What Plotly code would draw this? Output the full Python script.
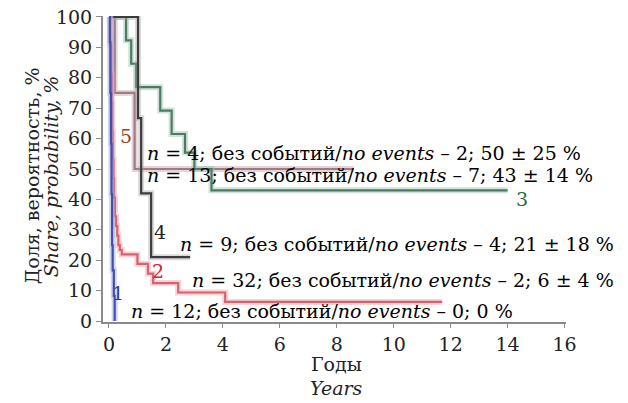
import plotly.graph_objects as go

# Kaplan-Meier style step curves (years, %)
c1_x = [0, 0.03, 0.05, 0.07, 0.09, 0.11, 0.13, 0.15, 0.17, 0.2]
c1_y = [100, 91.7, 75, 58.3, 41.7, 25, 16.7, 16.7, 8.3, 0]

c2_x = [0, 0.05, 0.08, 0.1, 0.12, 0.14, 0.16, 0.18, 0.21, 0.25, 0.29, 0.33, 0.38, 0.45, 1.0, 1.37, 1.55, 2.43, 4.08, 11.7]
c2_y = [100, 90.6, 81.3, 71.9, 62.5, 53.1, 46.9, 40.6, 34.4, 31.3, 28.1, 25.0, 23.4, 21.9, 18.8, 15.6, 12.5, 9.4, 6.3, 6.3]

c3_x = [0, 0.6, 0.78, 0.95, 1.8, 2.2, 2.67, 3.0, 3.6, 14.0]
c3_y = [100, 92.3, 84.6, 76.9, 69.2, 61.5, 55.4, 50.0, 43.0, 43.0]

c4_x = [0, 1.02, 1.13, 1.48, 2.85]
c4_y = [100, 66.7, 42.0, 21.0, 21.0]

c5_x = [0, 0.2, 0.9, 8.6]
c5_y = [100, 75, 50, 50]

x_ticks = [0, 2, 4, 6, 8, 10, 12, 14, 16]
y_ticks = [0, 10, 20, 30, 40, 50, 60, 70, 80, 90, 100]

curves = [
    (c5_x, c5_y, "#9a7c84", "rgba(200,160,170,0.45)"),
    (c3_x, c3_y, "#4d7a63", "rgba(150,190,170,0.45)"),
    (c4_x, c4_y, "#3c3c3c", "rgba(160,160,160,0.4)"),
    (c2_x, c2_y, "#d8636c", "rgba(240,170,175,0.5)"),
    (c1_x, c1_y, "#4450a8", "rgba(160,170,230,0.5)"),
]

fig = go.Figure()
for xs, ys, col, halo in curves:
    fig.add_trace(go.Scatter(x=xs, y=ys, mode="lines", line=dict(color=halo, width=6, shape="hv"),
                             hoverinfo="skip", showlegend=False))
    fig.add_trace(go.Scatter(x=xs, y=ys, mode="lines", line=dict(color=col, width=2.2, shape="hv"),
                             showlegend=False))

serif = "DejaVu Serif"
fs = 19

labels = [
    (1.27, 55.3, "<i>n</i> = 4; без событий/<i>no events</i> – 2; 50 ± 25 %", "black", "left"),
    (1.27, 48.0, "<i>n</i> = 13; без событий/<i>no events</i> – 7; 43 ± 14 %", "black", "left"),
    (2.43, 25.3, "<i>n</i> = 9; без событий/<i>no events</i> – 4; 21 ± 18 %", "black", "left"),
    (2.85, 13.5, "<i>n</i> = 32; без событий/<i>no events</i> – 2; 6 ± 4 %", "black", "left"),
    (0.70, 3.3, "<i>n</i> = 12; без событий/<i>no events</i> – 0; 0 %", "black", "left"),
    (14.5, 40.1, "3", "#1f6b45", "center"),
    (1.8, 29.3, "4", "#222222", "center"),
    (1.73, 16.4, "2", "#e0202a", "center"),
    (0.32, 9.2, "1", "#2a3aa0", "center"),
    (0.6, 60.9, "5", "#a0401a", "center"),
]
for x, y, t, c, anc in labels:
    fig.add_annotation(x=x, y=y, xref="x", yref="y", text=t, showarrow=False,
                       xanchor=anc, yanchor="middle", font=dict(family=serif, size=fs, color=c))

# axis titles (two lines each)
fig.add_annotation(x=-0.153, y=0.477, xref="paper", yref="paper", textangle=-90, showarrow=False,
                   text="Доля, вероятность, %", font=dict(family=serif, size=19, color="#222"),
                   xanchor="center", yanchor="middle")
fig.add_annotation(x=-0.112, y=0.477, xref="paper", yref="paper", textangle=-90, showarrow=False,
                   text="<i>Share, probability, %</i>", font=dict(family=serif, size=19, color="#222"),
                   xanchor="center", yanchor="middle")
fig.add_annotation(x=8, y=-0.137, xref="x", yref="paper", showarrow=False,
                   text="Годы", font=dict(family=serif, size=19, color="#222"),
                   xanchor="center", yanchor="middle")
fig.add_annotation(x=8, y=-0.216, xref="x", yref="paper", showarrow=False,
                   text="<i>Years</i>", font=dict(family=serif, size=19, color="#222"),
                   xanchor="center", yanchor="middle")

fig.update_layout(
    width=628, height=403,
    margin=dict(l=103, r=62, t=16, b=81),
    paper_bgcolor="white", plot_bgcolor="white",
    font=dict(family=serif, size=fs, color="#222"),
    xaxis=dict(range=[-0.21, 16.05], tickvals=x_ticks, showgrid=False, zeroline=False,
               automargin=False,
               showline=True, linecolor="#8a8a8a", linewidth=2, ticks="outside", ticklen=4,
               tickcolor="#8a8a8a", tickfont=dict(family=serif, size=19)),
    yaxis=dict(range=[-0.3, 100.3], tickvals=y_ticks, showgrid=False, zeroline=False,
               automargin=False,
               showline=True, linecolor="#8a8a8a", linewidth=2, ticks="outside", ticklen=5,
               tickcolor="#8a8a8a", tickfont=dict(family=serif, size=19)),
)

fig.write_html("out.html", config={"displayModeBar": False},
               post_script="document.body.style.margin='0';")
